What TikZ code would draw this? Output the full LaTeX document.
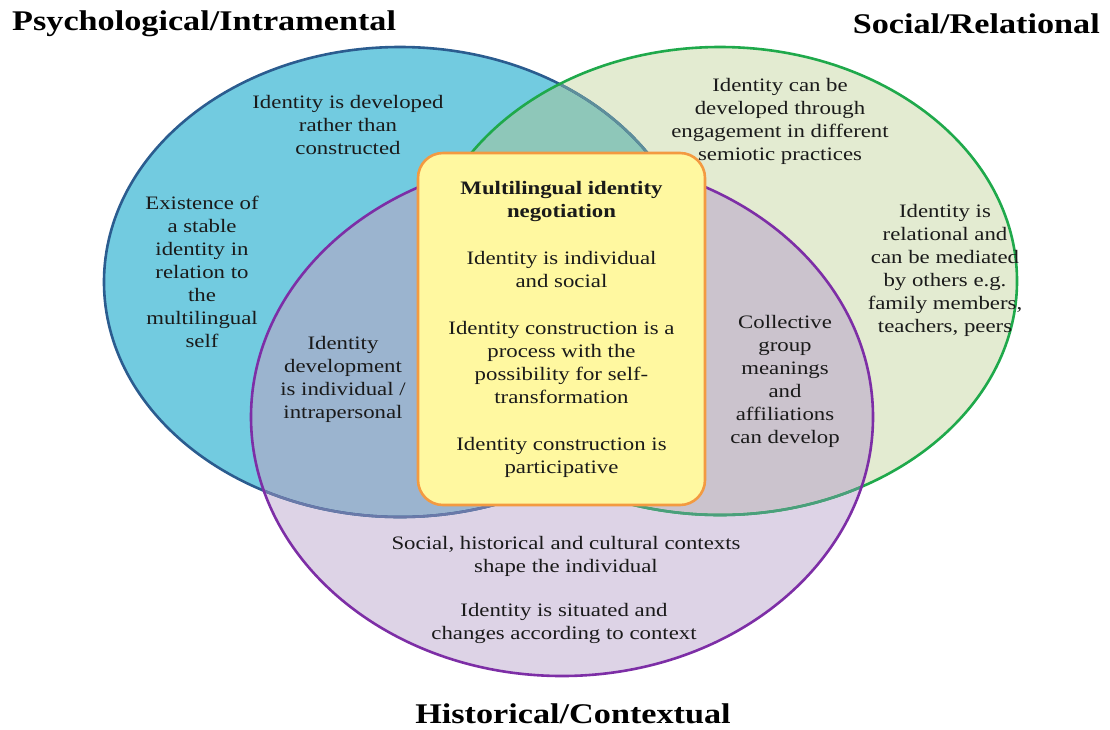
\documentclass[tikz,border=0pt]{standalone}
\usepackage{fontspec}
\setmainfont{Liberation Serif}
\usetikzlibrary{positioning}
\definecolor{psyfill}{HTML}{72CBE0}
\definecolor{psyline}{HTML}{2B5C8F}
\definecolor{socfill}{HTML}{E3EBD1}
\definecolor{socline}{HTML}{1FA94B}
\definecolor{hisfill}{HTML}{DDD3E6}
\definecolor{hisline}{HTML}{7D2EA6}
\definecolor{psysoc}{HTML}{8EC7B9}
\definecolor{psyhis}{HTML}{9BB4CF}
\definecolor{sochis}{HTML}{CBC3CD}
\definecolor{allthree}{HTML}{93A9B8}
\definecolor{psyinsoc}{HTML}{5E8E9A}
\definecolor{psyinhis}{HTML}{6A79A9}
\definecolor{socinhis}{HTML}{4A9F7C}
\definecolor{corefill}{HTML}{FFF8A0}
\definecolor{coreline}{HTML}{F39A41}
\definecolor{inktext}{HTML}{1A1A1A}
\tikzset{
  psyr/.style={x radius=296, y radius=235},
  socr/.style={x radius=297, y radius=234},
  hisr/.style={x radius=311, y radius=259},
  ring/.style={line width=2.6pt},
  corebox/.style={
    draw=coreline,
    fill=corefill,
    line width=2.6pt,
    rounded corners=25pt,
    minimum width=287pt,
    minimum height=352pt
  },
  venntext/.style={
    xscale=1.2,
    align=center,
    text=inktext,
    inner sep=0pt,
    font=\fontsize{19}{23}\selectfont
  },
  heading/.style={
    xscale=1.2,
    text=black,
    inner sep=0pt,
    font=\fontsize{28.5}{32}\selectfont\bfseries
  }
}

\begin{document}
\begin{tikzpicture}[x=1pt,y=-1pt]
\useasboundingbox (0,0) rectangle (1110,729);

% circle fills
\fill[psyfill] (400,282) ellipse [psyr];
\fill[socfill] (720,281) ellipse [socr];
\fill[hisfill] (562,417) ellipse [hisr];
\begin{scope}
  \clip (400,282) ellipse [psyr];
  \fill[psysoc] (720,281) ellipse [socr];
  \fill[psyhis] (562,417) ellipse [hisr];
  \clip (720,281) ellipse [socr];
  \fill[allthree] (562,417) ellipse [hisr];
\end{scope}
\begin{scope}
  \clip (720,281) ellipse [socr];
  \fill[sochis] (562,417) ellipse [hisr];
\end{scope}

% circle outlines
\draw[ring, psyline] (400,282) ellipse [psyr];
\begin{scope}
  \clip (720,281) ellipse [socr];
  \draw[ring, psyinsoc] (400,282) ellipse [psyr];
\end{scope}
\begin{scope}
  \clip (562,417) ellipse [hisr];
  \draw[ring, psyinhis] (400,282) ellipse [psyr];
\end{scope}
\draw[ring, socline] (720,281) ellipse [socr];
\begin{scope}
  \clip (562,417) ellipse [hisr];
  \draw[ring, socinhis] (720,281) ellipse [socr];
\end{scope}
\draw[ring, hisline] (562,417) ellipse [hisr];

% centre box
\node[corebox] (core) at (561.5,329) {};

% headings
\node[heading, anchor=west] (psyhead) at (12,24) {Psychological/Intramental};
\node[heading, anchor=east] (sochead) at (1100,24) {Social/Relational};
\node[heading] (hishead) at (573,714) {Historical/Contextual};

% psychological texts
\node[venntext] (psydev) at (348,125) {Identity is developed\\rather than\\constructed};
\node[venntext] (psystable) at (202,272) {Existence of\\a stable\\identity in\\relation to\\the\\multilingual\\self};
\node[venntext] (psyindiv) at (343,379) {Identity\\development\\is individual /\\intrapersonal};

% social texts
\node[venntext] (socsemiotic) at (780,121) {Identity can be\\developed through\\engagement in different\\semiotic practices};
\node[venntext] (socmediated) at (945,270) {Identity is\\relational and\\can be mediated\\by others e.g.\\family members,\\teachers, peers};
\node[venntext] (soccollective) at (785,381) {Collective\\group\\meanings\\and\\affiliations\\can develop};

% historical texts
\node[venntext] (hiscontexts) at (566,556) {Social, historical and cultural contexts\\shape the individual};
\node[venntext] (hissituated) at (564,623) {Identity is situated and\\changes according to context};

% negotiation texts
\node[venntext] (coretext) at (core.center) {%
  \textbf{Multilingual identity}\\\textbf{negotiation}\\[24pt]
  Identity is individual\\and social\\[24pt]
  Identity construction is a\\process with the\\possibility for self-\\transformation\\[24pt]
  Identity construction is\\participative};

\end{tikzpicture}
\end{document}
